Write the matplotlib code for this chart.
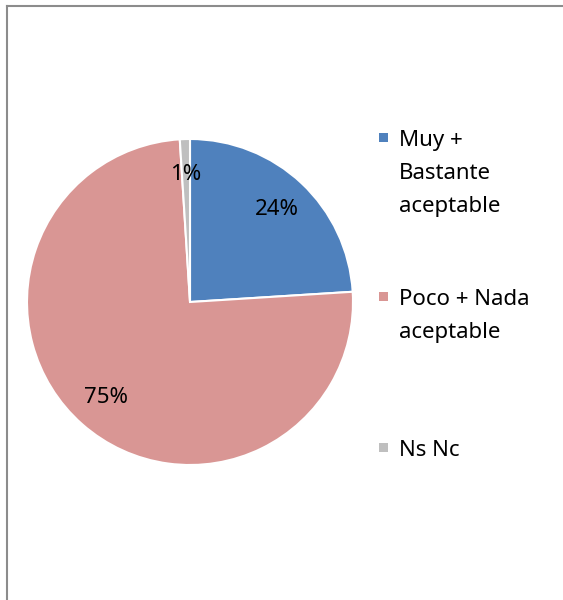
import matplotlib.pyplot as plt
from matplotlib.lines import Line2D
from matplotlib.patches import Rectangle

plt.rcParams['font.family'] = ['Noto Sans', 'DejaVu Sans']

labels = ['Muy +\nBastante\naceptable', 'Poco + Nada\naceptable', 'Ns Nc']
values = [24, 75, 1]
colors = ['#4F81BD', '#D99694', '#BFBFBF']

W, H = 563, 600
fig = plt.figure(figsize=(W / 100, H / 100), dpi=100)
fig.patch.set_facecolor('white')

# outer frame (only left and top edges visible)
fig.add_artist(Line2D([7 / W, 7 / W], [0, 1 - 6 / H], color='#8C8C8C', lw=1.5))
fig.add_artist(Line2D([7 / W, 1], [1 - 6 / H, 1 - 6 / H], color='#8C8C8C', lw=1.5))

# pie: center (190, 302), radius 163 px
cx, cy, r = 190, 302, 163
ax = fig.add_axes([(cx - r) / W, 1 - (cy + r) / H, 2 * r / W, 2 * r / H])
wedges, texts, autotexts = ax.pie(values, colors=colors, startangle=90, counterclock=False,
                                  autopct='%1.0f%%', pctdistance=0.78,
                                  wedgeprops=dict(edgecolor='white', linewidth=1.5),
                                  textprops=dict(fontsize=16, color='black'))
ax.set_aspect('equal')
ax.set_xlim(-1.0, 1.0)
ax.set_ylim(-1.0, 1.0)
ax.axis('off')

# legend drawn by hand to match spacing
first_baselines = [146, 305, 456]
line_h = 33
for lab, col, base in zip(labels, colors, first_baselines):
    fig.add_artist(Rectangle((379 / W, 1 - (base - 4) / H), 9 / W, 9 / H,
                             transform=fig.transFigure, facecolor=col, edgecolor='none'))
    for i, line in enumerate(lab.split('\n')):
        fig.text(399 / W, 1 - (base + i * line_h) / H, line, fontsize=16,
                 va='baseline', ha='left')

fig.savefig('out.png', dpi=100)
